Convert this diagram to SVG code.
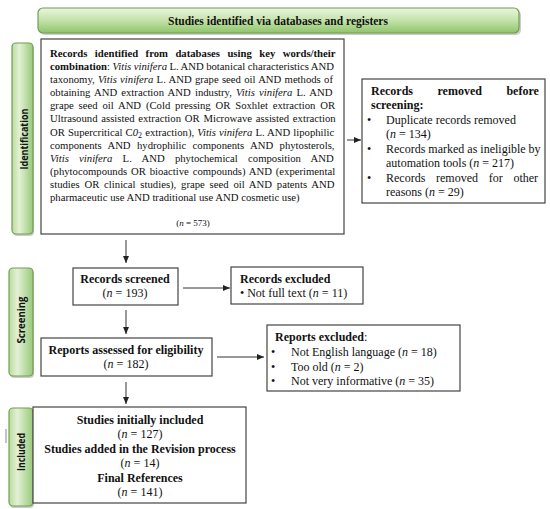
<svg xmlns="http://www.w3.org/2000/svg" width="550" height="509" viewBox="0 0 550 509">
<defs>
<linearGradient id="gv" x1="0" y1="0" x2="0" y2="1">
<stop offset="0" stop-color="#eaf5df"/>
<stop offset="0.5" stop-color="#c3e2a8"/>
<stop offset="1" stop-color="#8fc46c"/>
</linearGradient>
<linearGradient id="gh" x1="0" y1="0" x2="1" y2="0">
<stop offset="0" stop-color="#b8dc9a"/>
<stop offset="0.35" stop-color="#e3f1d6"/>
<stop offset="1" stop-color="#98c978"/>
</linearGradient>
<marker id="ah" markerWidth="7" markerHeight="6" refX="7" refY="3" orient="auto" markerUnits="userSpaceOnUse">
<path d="M0,0 L7,3 L0,6 Z" fill="#222"/>
</marker>
<style>
.bx{fill:#fff;stroke:#444;stroke-width:1.2}
.bar{fill:url(#gh);stroke:#6f9f52;stroke-width:1.2}
.sh{fill:#9a9a9a;opacity:0.5}
.t{font-family:"Liberation Serif","Times New Roman",serif;font-size:10.7px;fill:#111}
.m{font-size:12px}
.b{font-weight:bold}
.i{font-style:italic}
.c{text-anchor:middle}
.side{font-family:"Open Sans","DejaVu Sans",sans-serif;font-size:10px;font-weight:bold;fill:#111;text-anchor:middle}
.cn{stroke:#333;stroke-width:1;fill:none;marker-end:url(#ah)}
</style>
</defs>

<g id="banner">
<rect class="sh" x="40" y="10" width="481" height="25" rx="5"/>
<rect x="38" y="8" width="481" height="25" rx="5" fill="url(#gv)" stroke="#6f9f52" stroke-width="1.2"/>
<text class="t b c" x="278" y="25" style="font-size:11.5px">Studies identified via databases and registers</text>
</g>

<g id="label-identification">
<rect class="sh" x="13" y="45" width="21" height="191" rx="4"/>
<rect class="bar" x="12" y="43" width="21" height="191" rx="4"/>
<text class="side" transform="translate(27.5,139) rotate(-90)" textLength="61" lengthAdjust="spacingAndGlyphs">Identification</text>
</g>

<g id="label-screening">
<rect class="sh" x="10" y="270" width="24" height="108" rx="4"/>
<rect class="bar" x="9" y="268" width="24" height="108" rx="4"/>
<text class="side" transform="translate(25,320) rotate(-90)" textLength="47" lengthAdjust="spacingAndGlyphs">Screening</text>
</g>

<g id="label-included">
<rect class="sh" x="10" y="410" width="24" height="98" rx="4"/>
<rect class="bar" x="9" y="408" width="24" height="98" rx="4"/>
<text class="side" transform="translate(25,452) rotate(-90)" textLength="38" lengthAdjust="spacingAndGlyphs">Included</text>
<line x1="6" y1="429" x2="6" y2="443" stroke="#888" stroke-width="1"/>
</g>

<g id="records-identified">
<rect class="bx" x="41" y="39" width="303" height="195"/>
<text class="t b" x="50" y="57" word-spacing="4.77">Records identified from databases using key words/their</text>
<text class="t" x="50" y="70" word-spacing="-0.2"><tspan class="b">combination</tspan>: <tspan class="i">Vitis vinifera</tspan> L. AND botanical characteristics AND</text>
<text class="t" x="50" y="83" word-spacing="0.6">taxonomy, <tspan class="i">Vitis vinifera</tspan> L. AND grape seed oil AND methods of</text>
<text class="t" x="50" y="96" word-spacing="1.5">obtaining AND extraction AND industry, <tspan class="i">Vitis vinifera</tspan> L. AND</text>
<text class="t" x="50" y="109" word-spacing="2.16">grape seed oil AND (Cold pressing OR Soxhlet extraction OR</text>
<text class="t" x="50" y="122" word-spacing="1.1">Ultrasound assisted extraction OR Microwave assisted extraction</text>
<text class="t" x="50" y="136" word-spacing="0.4">OR Supercritical C<tspan class="i">0</tspan><tspan dy="2" style="font-size:8px">2</tspan><tspan dy="-2"> extraction), </tspan><tspan class="i">Vitis vinifera</tspan> L. AND lipophilic</text>
<text class="t" x="50" y="149" word-spacing="3.7">components AND hydrophilic components AND phytosterols,</text>
<text class="t" x="50" y="162" word-spacing="7.6"><tspan class="i">Vitis vinifera</tspan> L. AND phytochemical composition AND</text>
<text class="t" x="50" y="175" word-spacing="1.16">(phytocompounds OR bioactive compounds) AND (experimental</text>
<text class="t" x="50" y="188" word-spacing="2.12">studies OR clinical studies), grape seed oil AND patents AND</text>
<text class="t" x="50" y="201">pharmaceutic use AND traditional use AND cosmetic use)</text>
<text class="t c" x="193" y="226" style="font-size:9px">(<tspan class="i">n</tspan> = 573)</text>
</g>

<g id="records-removed">
<rect class="bx" x="362" y="79" width="183" height="124"/>
<text class="t m b" x="371" y="95" word-spacing="21.5">Records removed before</text>
<text class="t m b" x="371" y="109">screening:</text>
<text class="t m" x="367" y="124">•</text>
<text class="t m" x="386" y="124">Duplicate records removed</text>
<text class="t m" x="386" y="138">(<tspan class="i">n</tspan> = 134)</text>
<text class="t m" x="367" y="153">•</text>
<text class="t m" x="386" y="153">Records marked as ineligible by</text>
<text class="t m" x="386" y="167">automation tools (<tspan class="i">n</tspan> = 217)</text>
<text class="t m" x="367" y="182">•</text>
<text class="t m" x="386" y="182" word-spacing="7.7">Records removed for other</text>
<text class="t m" x="386" y="196">reasons (<tspan class="i">n</tspan> = 29)</text>
</g>

<g id="records-screened">
<rect class="bx" x="73" y="268" width="105" height="37"/>
<text class="t m b c" x="125" y="283">Records screened</text>
<text class="t m c" x="125" y="297">(<tspan class="i">n</tspan> = 193)</text>
</g>

<g id="records-excluded">
<rect class="bx" x="231" y="267" width="132" height="37"/>
<text class="t m b" x="240" y="283">Records excluded</text>
<text class="t m" x="240" y="297">• Not full text (<tspan class="i">n</tspan> = 11)</text>
</g>

<g id="reports-assessed">
<rect class="bx" x="41" y="338" width="171" height="38"/>
<text class="t m b c" x="126" y="354">Reports assessed for eligibility</text>
<text class="t m c" x="126" y="368">(<tspan class="i">n</tspan> = 182)</text>
</g>

<g id="reports-excluded">
<rect class="bx" x="267" y="325" width="193" height="66"/>
<text class="t m" x="275" y="341"><tspan class="b">Reports excluded</tspan>:</text>
<text class="t m" x="271" y="356">•</text>
<text class="t m" x="291" y="356">Not English language (<tspan class="i">n</tspan> = 18)</text>
<text class="t m" x="271" y="371">•</text>
<text class="t m" x="291" y="371">Too old (<tspan class="i">n</tspan> = 2)</text>
<text class="t m" x="271" y="385">•</text>
<text class="t m" x="291" y="385">Not very informative (<tspan class="i">n</tspan> = 35)</text>
</g>

<g id="included">
<rect class="bx" x="33" y="407" width="213" height="96"/>
<text class="t m b c" x="140" y="424">Studies initially included</text>
<text class="t m c" x="140" y="438">(<tspan class="i">n</tspan> = 127)</text>
<text class="t m b c" x="140" y="453">Studies added in the Revision process</text>
<text class="t m c" x="140" y="467">(<tspan class="i">n</tspan> = 14)</text>
<text class="t m b c" x="140" y="482">Final References</text>
<text class="t m c" x="140" y="496">(<tspan class="i">n</tspan> = 141)</text>
</g>

<g id="connectors">
<line class="cn" x1="126" y1="240" x2="126" y2="263"/>
<line class="cn" x1="347" y1="140" x2="361" y2="140"/>
<line class="cn" x1="183" y1="288" x2="230" y2="288"/>
<line class="cn" x1="126" y1="310" x2="126" y2="334"/>
<line class="cn" x1="217" y1="357" x2="264" y2="357"/>
<line class="cn" x1="126" y1="382" x2="126" y2="404"/>
</g>
</svg>
